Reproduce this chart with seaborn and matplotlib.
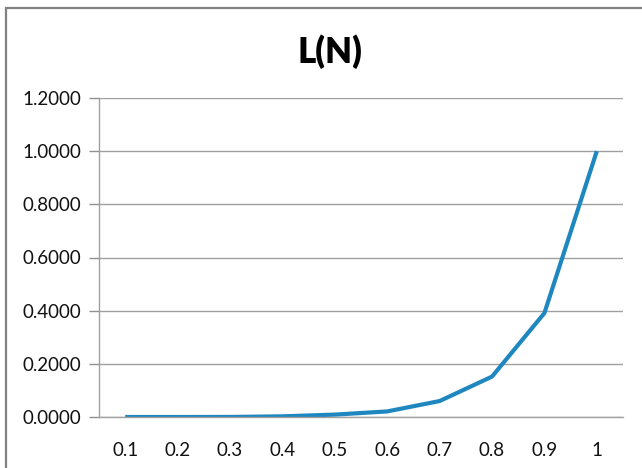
import matplotlib
matplotlib.use("Agg")
import matplotlib.pyplot as plt
import seaborn as sns
import pandas as pd
from matplotlib.patches import Rectangle
from matplotlib.ticker import FormatStrFormatter, FixedLocator

categories = ["0.1", "0.2", "0.3", "0.4", "0.5", "0.6", "0.7", "0.8", "0.9", "1"]
values = [0.0000, 0.0000, 0.0002, 0.0025, 0.009, 0.021, 0.060, 0.152, 0.391, 1.0]
title = "L(N)"

sns.set_style("white")
plt.rcParams["font.family"] = ["Lato", "DejaVu Sans"]

df = pd.DataFrame({"pos": range(len(categories)), "val": values})

fig = plt.figure(figsize=(6.42, 4.68), dpi=100)
ax = fig.add_axes([99 / 642, 51 / 468, 524 / 642, 319 / 468])

sns.lineplot(data=df, x="pos", y="val", ax=ax, color="#1F87C0", linewidth=3.0,
             solid_capstyle="butt")

ax.set_xlim(-0.5, len(categories) - 0.5)
ax.set_ylim(0, 1.2)
ax.set_yticks([0, 0.2, 0.4, 0.6, 0.8, 1.0, 1.2])
ax.yaxis.set_major_formatter(FormatStrFormatter("%.4f"))
ax.set_xticks(range(len(categories)))
ax.set_xticklabels(categories)
ax.xaxis.set_minor_locator(FixedLocator([i - 0.5 for i in range(len(categories) + 1)]))
ax.tick_params(axis="x", which="major", length=0, pad=18, labelsize=13.5, colors="#111111")
ax.tick_params(axis="x", which="minor", length=7, width=1, color="#909090", direction="out")
ax.tick_params(axis="y", which="major", length=7, width=1, color="#909090", direction="out",
               pad=6, labelsize=13.5, labelcolor="#111111", left=True)
ax.set_xlabel("")
ax.set_ylabel("")
ax.grid(axis="y", color="#A0A0A0", linewidth=1)
ax.set_axisbelow(True)
for s in ["top", "right"]:
    ax.spines[s].set_visible(False)
for s in ["left", "bottom"]:
    ax.spines[s].set_color("#A0A0A0")
    ax.spines[s].set_linewidth(1)

fig.text(330 / 642, 1 - 52 / 468, title, ha="center", va="center",
         fontsize=25, fontweight="heavy", color="#000000")

fig.patches.append(Rectangle((6 / 642, -0.1), 1.2, 1.1 - 8 / 468, transform=fig.transFigure,
                             fill=False, edgecolor="#808080", linewidth=1.6))

fig.savefig("out.png", dpi=100)
